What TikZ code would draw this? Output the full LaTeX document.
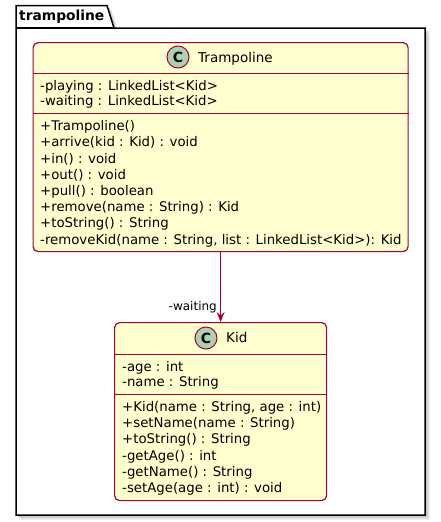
\documentclass[tikz,border=0pt]{standalone}
\usepackage{fontspec}
\setmainfont{DejaVu Sans}
\usetikzlibrary{arrows.meta}
\definecolor{umlred}{HTML}{A80036}
\definecolor{umlfill}{HTML}{FEFECE}
\definecolor{umlcirc}{HTML}{ADD1B2}
\newcommand\folderoutline{(16,28) -- (16,5.5) -- (107,5.5) -- (114,28) -- (425,28) -- (425,515) -- (16,515) -- cycle}
\begin{document}
\begin{tikzpicture}[x=1pt,y=-1pt,
  mem/.style={anchor=base west, inner sep=0pt, font=\fontsize{13.3}{16}\selectfont},
  ttl/.style={anchor=base west, inner sep=0pt, font=\fontsize{13.5}{16}\selectfont},
  cls/.style={draw=umlred, fill=umlfill, line width=1.2pt, rounded corners=5pt, anchor=north west, inner sep=0pt},
  sepline/.style={draw=umlred, line width=1pt},
  spot/.style={circle, draw=umlred, fill=umlcirc, line width=1pt, minimum size=22pt, inner sep=0pt, font=\bfseries\fontsize{14}{14}\selectfont},
  assoc/.style={draw=umlred, line width=1pt, -{Stealth[length=10pt,width=8pt,inset=3.5pt,fill=umlred]}},
  lbl/.style={anchor=base east, inner sep=0pt, font=\fontsize{12}{14}\selectfont},
  pkg/.style={draw=black, line width=1.5pt, fill=white, line join=miter},
  pkgname/.style={anchor=base west, inner sep=0pt, font=\bfseries\fontsize{13.8}{16}\selectfont}
]
\useasboundingbox (0,0) rectangle (440,522);
% package with shadow
\fill[gray!22, shift={(4.5,4.5)}] \folderoutline;
\fill[gray!45, shift={(2.5,2.5)}] \folderoutline;
\path[pkg] \folderoutline;
\draw[black, line width=1.5pt] (16,28) -- (114,28);
\node[pkgname] (pkgn) at (19,20) {trampoline};

% Trampoline class
\node[cls, minimum width=375pt, minimum height=209pt] (tramp) at (32.5,42) {};
\node[spot] (tspot) at (178,57) {C};
\node[ttl] (tname) at (198,62.5) {Trampoline};
\draw[sepline] (tramp.west |- 0,73) -- (tramp.east |- 0,73);
\draw[sepline] (tramp.west |- 0,113) -- (tramp.east |- 0,113);
\node[mem] (ta1) at (40,90.7) {-playing : LinkedList<Kid>};
\node[mem] (ta2) at (40,105.7) {-waiting : LinkedList<Kid>};
\node[mem] (tm1) at (40,130.7) {+Trampoline()};
\node[mem] (tm2) at (40,146.9) {+arrive(kid : Kid) : void};
\node[mem] (tm3) at (40,163.1) {+in() : void};
\node[mem] (tm4) at (40,179.3) {+out() : void};
\node[mem] (tm5) at (40,195.5) {+pull() : boolean};
\node[mem] (tm6) at (40,211.7) {+remove(name : String) : Kid};
\node[mem] (tm7) at (40,227.9) {+toString() : String};
\node[mem] (tm8) at (40,244.1) {-removeKid(name : String, list : LinkedList<Kid>): Kid};

% Kid class
\node[cls, minimum width=212pt, minimum height=178pt] (kid) at (114,322) {};
\node[spot] (kspot) at (206,338) {C};
\node[ttl] (kname) at (226,342.5) {Kid};
\draw[sepline] (kid.west |- 0,354) -- (kid.east |- 0,354);
\draw[sepline] (kid.west |- 0,394) -- (kid.east |- 0,394);
\node[mem] (ka1) at (122,371.5) {-age : int};
\node[mem] (ka2) at (122,386.5) {-name : String};
\node[mem] (km1) at (122,411.5) {+Kid(name : String, age : int)};
\node[mem] (km2) at (122,427.7) {+setName(name : String)};
\node[mem] (km3) at (122,443.9) {+toString() : String};
\node[mem] (km4) at (122,460.1) {-getAge() : int};
\node[mem] (km5) at (122,476.3) {-getName() : String};
\node[mem] (km6) at (122,492.5) {-setAge(age : int) : void};

% association
\draw[assoc] (tramp.south) -- (kid.north);
\node[lbl] (wlbl) at (217,310.5) {-waiting};
\end{tikzpicture}
\end{document}
